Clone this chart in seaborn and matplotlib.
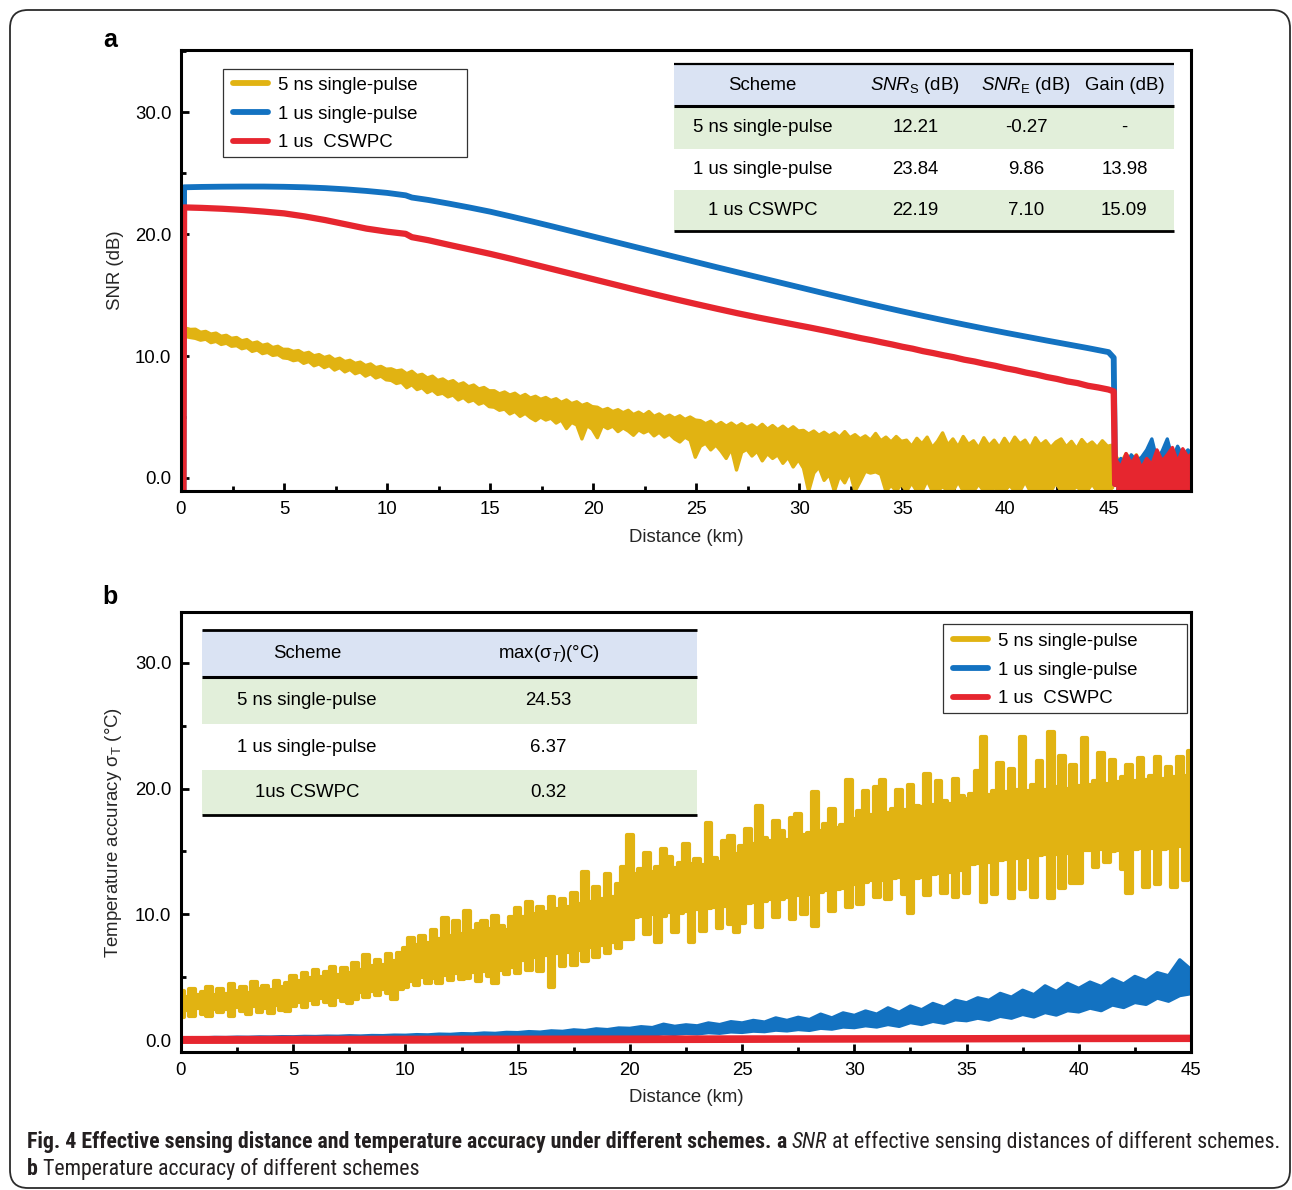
import numpy as np
import matplotlib
matplotlib.use("Agg")
import matplotlib.pyplot as plt
import seaborn as sns
from matplotlib.lines import Line2D
from matplotlib.patches import Rectangle, FancyBboxPatch
from matplotlib.ticker import MultipleLocator, FormatStrFormatter
from matplotlib import font_manager

# ------------------------------------------------------------------ data
series_labels = ["5 ns single-pulse", "1 us single-pulse", "1 us  CSWPC"]
series_colors = ["#E1B312", "#1372C1", "#E6262F"]

# (a) SNR along the fibre, 5 ns single pulse: upper / lower edge of the noisy trace
yellow_a_hi = [
    12.30, 12.18, 12.20, 11.95, 12.02, 11.80, 11.88, 11.62, 11.70, 11.45, 11.52, 11.25, 11.35, 11.05, 11.15, 10.88, 10.98, 10.70, 10.80, 10.55,
    10.55, 10.38, 10.45, 10.20, 10.30, 10.02, 10.12, 9.88, 10.00, 9.70, 9.82, 9.55, 9.65, 9.40, 9.50, 9.22, 9.35, 9.05, 9.15, 8.92,
    8.95, 8.78, 8.85, 8.55, 8.75, 8.40, 8.50, 8.20, 8.35, 8.00, 8.12, 7.85, 7.98, 7.65, 7.80, 7.48, 7.62, 7.30, 7.42, 7.15,
    7.15, 6.90, 7.05, 6.80, 6.95, 6.65, 6.85, 6.55, 6.70, 6.45, 6.60, 6.35, 6.50, 6.20, 6.40, 6.10, 6.25, 5.95, 6.10, 5.85,
    5.80, 5.55, 5.70, 5.45, 5.60, 5.35, 5.55, 5.20, 5.40, 5.15, 5.45, 5.05, 5.25, 4.95, 5.15, 4.90, 5.10, 4.80, 5.00, 4.75,
    4.70, 4.45, 4.65, 4.30, 4.55, 4.25, 4.50, 4.20, 4.45, 4.15, 4.35, 4.05, 4.40, 4.00, 4.30, 3.95, 4.25, 3.90, 4.20, 3.85,
    3.90, 3.60, 3.85, 3.50, 3.75, 3.45, 3.70, 3.35, 3.80, 3.30, 3.55, 3.20, 3.45, 3.10, 3.65, 3.05, 3.35, 2.95, 3.40, 3.00,
    3.10, 2.60, 3.25, 2.80, 3.35, 2.50, 3.00, 3.70, 2.70, 3.20, 2.55, 3.40, 2.75, 3.05, 2.45, 3.30, 2.65, 3.10, 2.50, 3.25,
    2.60, 3.35, 2.80, 3.10, 2.45, 3.30, 2.70, 3.05, 2.50, 2.95, 3.20, 2.55, 3.00, 2.40, 3.15, 2.65, 2.95, 2.50, 3.05, 2.60, 2.70,
]
yellow_a_lo = [
    11.60, 11.52, 11.45, 11.30, 11.38, 11.10, 11.20, 10.95, 11.05, 10.80, 10.85, 10.60, 10.70, 10.38, 10.50, 10.20, 10.30, 10.05, 10.12, 9.85,
    9.80, 9.62, 9.70, 9.40, 9.55, 9.20, 9.35, 9.05, 9.22, 8.85, 9.05, 8.70, 8.90, 8.55, 8.70, 8.35, 8.55, 8.20, 8.35, 8.05,
    8.00, 7.75, 7.85, 7.40, 7.65, 7.25, 7.40, 7.00, 7.20, 6.85, 6.95, 6.65, 6.80, 6.40, 6.60, 6.25, 6.40, 6.05, 6.20, 5.85,
    5.80, 5.55, 5.65, 5.25, 5.45, 5.05, 5.30, 4.95, 4.70, 5.00, 4.75, 4.90, 4.50, 4.75, 4.05, 4.55, 4.35, 3.20, 4.30, 4.00,
    3.30, 4.30, 4.05, 4.25, 3.80, 4.10, 3.85, 3.50, 3.95, 3.70, 3.90, 3.45, 3.75, 3.35, 3.60, 3.20, 2.95, 3.35, 3.10, 1.70,
    2.60, 2.85, 2.30, 2.70, 2.20, 1.60, 2.40, 0.65, 2.10, 2.35, 1.80, 2.20, 1.40, 2.00, 1.60, 1.90, 1.20, 1.70, 0.90, 1.50,
    0.80, -1.10, 0.40, 0.90, -0.20, 0.30, -1.10, 0.20, -0.40, 0.50, -1.10, -0.30, 0.55, 0.40, 0.50, 0.30, -1.10, -0.60, -1.10, -0.50,
    -1.10, -0.40, -1.10, -1.10, -0.20, -1.10, -1.10, -0.70, -1.10, -1.10, -0.30, -1.10, -1.10, -1.10, -0.50, -1.10, -1.10, -0.80, -1.10, -1.10,
    -0.60, -1.10, -1.10, -0.30, -1.10, -1.10, -0.90, -1.10, -1.10, -0.40, -1.10, -1.10, -1.10, -0.70, -1.10, -1.10, -0.50, -1.10, -1.10, -1.10, -0.80,
]
yellow_a_km = np.round(0.2 + 0.25 * np.arange(len(yellow_a_hi)), 2)

# (a) 1 us single pulse
blue_a_km = [0.12, 0.15, 1, 2, 3, 4, 5, 6, 7, 8, 9, 10, 10.9, 11.2, 12, 13, 14, 15, 16, 17, 18, 19, 20,
             21, 22, 23, 24, 25, 26, 27, 28, 29, 30, 31, 32, 33, 34, 35, 36, 37, 38, 39, 40,
             41, 42, 43, 44, 45, 45.25, 45.32]
blue_a_snr = [-1.1, 23.84, 23.87, 23.89, 23.90, 23.90, 23.88, 23.84, 23.77, 23.67, 23.54, 23.38, 23.18, 23.00,
              22.80, 22.50, 22.18, 21.84, 21.45, 21.05, 20.64, 20.22, 19.80, 19.38, 18.96, 18.54, 18.12,
              17.70, 17.28, 16.87, 16.46, 16.05, 15.64, 15.23, 14.83, 14.43, 14.04, 13.66, 13.29, 12.93,
              12.58, 12.24, 11.91, 11.59, 11.27, 10.96, 10.65, 10.32, 9.86, -0.5]

# (a) 1 us CSWPC
red_a_km = [0.12, 0.15, 1, 2, 3, 4, 5, 6, 7, 8, 9, 10, 10.9, 11.2, 12, 13, 14, 15, 16, 17, 18, 19, 20,
            21, 22, 23, 24, 25, 26, 27, 28, 29, 30, 30.5, 31, 31.5, 32, 32.5, 33, 33.5, 34, 34.5,
            35, 35.5, 36, 36.5, 37, 37.5, 38, 38.5, 39, 39.5, 40, 40.5, 41, 41.5, 42, 42.5, 43,
            43.5, 44, 44.5, 45, 45.25, 45.32]
red_a_snr = [-1.1, 22.19, 22.15, 22.08, 21.98, 21.85, 21.70, 21.45, 21.15, 20.80, 20.45, 20.20, 20.02, 19.75,
             19.50, 19.12, 18.75, 18.38, 17.98, 17.56, 17.14, 16.72, 16.30, 15.88, 15.46, 15.05, 14.65,
             14.26, 13.88, 13.51, 13.16, 12.83, 12.50, 12.34, 12.17, 12.00, 11.82, 11.64, 11.46, 11.30,
             11.12, 10.95, 10.76, 10.60, 10.40, 10.24, 10.06, 9.90, 9.70, 9.55, 9.36, 9.20, 9.00, 8.84,
             8.64, 8.48, 8.28, 8.12, 7.92, 7.78, 7.56, 7.42, 7.25, 7.10, -0.5]

# (a) noise floor beyond the fibre end
tail_km = np.round(45.35 + 0.25 * np.arange(16), 2)
yellow_tail = [1.80, 1.20, 2.00, 1.40, 1.90, 1.00, 1.70, 1.30, 1.85, 1.10, 1.60, 1.95, 1.20, 1.75, 1.40, 1.60]
blue_tail = [1.20, 1.60, 0.90, 1.90, 1.40, 1.70, 2.30, 3.20, 1.50, 2.20, 3.20, 1.60, 2.60, 1.80, 2.30, 1.90]
red_tail = [1.50, 0.90, 2.00, 1.20, 1.85, 0.80, 1.60, 1.10, 2.30, 1.40, 1.90, 2.50, 1.30, 2.40, 1.70, 2.10]

# (b) temperature accuracy, 5 ns single pulse
yellow_b_hi = [
    3.90, 3.40, 4.10, 3.60, 3.85, 4.20, 3.55, 4.05, 3.70, 4.45, 3.90, 4.25, 3.75, 4.60, 4.05, 4.30, 3.95, 4.70, 4.20, 4.50,
    5.10, 4.70, 5.35, 4.90, 5.55, 5.05, 5.40, 5.85, 5.20, 5.70, 5.35, 6.10, 5.55, 6.80, 5.90, 6.40, 6.00, 6.85, 6.30, 6.95,
    7.30, 8.10, 7.55, 8.25, 7.70, 8.75, 8.00, 9.70, 8.30, 9.50, 8.45, 10.30, 8.70, 9.20, 9.50, 8.80, 9.90, 9.10, 8.75, 9.80,
    10.50, 9.80, 11.00, 10.00, 10.60, 10.20, 11.40, 10.40, 11.20, 10.60, 11.70, 10.80, 13.40, 11.00, 12.20, 11.20, 13.20, 11.40, 12.40, 13.80,
    16.30, 13.20, 13.60, 14.90, 13.40, 13.80, 15.20, 14.60, 13.70, 14.10, 15.60, 14.00, 14.40, 13.90, 17.30, 14.50, 14.20, 15.80, 16.20, 14.80,
    15.40, 16.80, 15.60, 18.60, 16.10, 15.80, 17.40, 16.60, 15.90, 17.70, 18.00, 16.30, 16.50, 19.70, 16.60, 17.20, 18.40, 16.90, 17.10, 20.70,
    17.60, 18.20, 19.80, 17.90, 20.10, 20.70, 18.10, 18.40, 19.90, 18.30, 20.30, 18.60, 18.50, 21.20, 18.70, 20.60, 19.00, 18.80, 20.80, 19.40,
    19.20, 19.60, 21.40, 24.10, 19.50, 19.80, 22.00, 19.70, 21.60, 19.90, 24.10, 19.80, 20.30, 22.20, 19.90, 24.53, 20.10, 22.60, 20.00, 21.90,
    20.20, 24.00, 20.30, 20.60, 22.80, 20.40, 22.30, 20.50, 20.90, 21.90, 20.60, 22.40, 20.70, 21.00, 22.50, 20.80, 21.70, 20.90, 22.50, 21.00, 23.00,
]
yellow_b_lo = [
    1.80, 2.40, 1.95, 2.55, 2.10, 1.90, 2.50, 2.20, 2.45, 1.95, 2.60, 2.30, 2.05, 2.70, 2.25, 2.55, 2.15, 2.80, 2.40, 2.35,
    2.70, 3.05, 2.60, 3.20, 2.90, 3.35, 3.00, 2.75, 3.40, 3.10, 2.95, 3.25, 3.80, 3.45, 3.90, 3.60, 4.05, 3.75, 3.30, 4.10,
    4.25, 4.70, 4.35, 5.05, 4.50, 4.90, 4.55, 5.20, 4.80, 5.35, 4.85, 4.95, 5.40, 4.70, 5.50, 5.10, 4.50, 5.60, 5.25, 5.80,
    5.30, 6.40, 5.60, 6.60, 5.50, 6.80, 4.20, 6.90, 5.90, 7.00, 6.00, 7.20, 6.30, 7.40, 6.60, 7.60, 6.90, 7.80, 7.30, 8.00,
    8.00, 9.80, 9.90, 8.40, 10.00, 7.80, 9.90, 10.20, 8.60, 10.10, 10.30, 7.80, 10.40, 8.70, 10.50, 10.60, 8.90, 10.70, 9.20, 8.60,
    9.30, 10.90, 11.00, 9.00, 11.10, 11.20, 9.80, 11.20, 11.40, 9.60, 11.50, 10.00, 11.60, 9.10, 11.80, 11.90, 10.30, 12.00, 12.10, 10.60,
    12.40, 10.80, 12.60, 12.70, 11.40, 12.70, 11.20, 12.90, 13.00, 11.60, 10.10, 12.90, 13.00, 11.50, 13.20, 13.30, 11.70, 13.40, 11.40, 13.50,
    11.70, 14.00, 14.10, 11.00, 14.20, 11.60, 14.30, 14.40, 11.30, 14.50, 12.00, 14.60, 11.40, 14.70, 14.80, 11.30, 14.80, 12.10, 14.90, 12.50,
    12.50, 15.10, 15.10, 13.80, 15.20, 14.20, 15.00, 15.10, 13.60, 11.70, 15.20, 15.30, 12.20, 15.30, 12.40, 15.20, 15.30, 12.20, 15.40, 12.70, 13.00,
]
yellow_b_km = np.round(0.25 * np.arange(len(yellow_b_hi)), 2)

# (b) 1 us single pulse
blue_b_hi = [
    0.15, 0.18, 0.16, 0.20, 0.19, 0.22, 0.21, 0.24, 0.23, 0.26,
    0.25, 0.28, 0.27, 0.30, 0.29, 0.33, 0.31, 0.35, 0.34, 0.38,
    0.37, 0.42, 0.40, 0.46, 0.44, 0.50, 0.48, 0.55, 0.52, 0.60,
    0.58, 0.66, 0.62, 0.72, 0.68, 0.80, 0.74, 0.88, 0.82, 0.95,
    0.92, 1.05, 0.98, 1.25, 1.08, 1.20, 1.12, 1.35, 1.22, 1.45,
    1.35, 1.55, 1.42, 1.75, 1.55, 1.80, 1.62, 2.05, 1.75, 2.15,
    1.95, 2.30, 2.05, 2.55, 2.20, 2.70, 2.40, 2.90, 2.60, 3.15,
    2.95, 3.35, 3.15, 3.70, 3.40, 3.95, 3.60, 4.30, 3.85, 4.50,
    4.10, 4.60, 4.25, 4.85, 4.45, 5.05, 4.70, 5.35, 5.10, 6.37,
    5.60,
]
blue_b_lo = [
    -0.05, -0.04, -0.05, -0.03, -0.04, -0.02, -0.03, -0.01, -0.02, 0.00,
    0.00, 0.02, 0.01, 0.03, 0.02, 0.04, 0.03, 0.06, 0.05, 0.08,
    0.07, 0.10, 0.09, 0.12, 0.11, 0.15, 0.13, 0.18, 0.16, 0.21,
    0.19, 0.24, 0.22, 0.28, 0.25, 0.31, 0.28, 0.35, 0.32, 0.40,
    0.38, 0.45, 0.42, 0.50, 0.46, 0.55, 0.50, 0.60, 0.55, 0.66,
    0.62, 0.72, 0.68, 0.80, 0.74, 0.85, 0.78, 0.95, 0.88, 1.05,
    1.00, 1.15, 1.05, 1.25, 1.10, 1.40, 1.25, 1.50, 1.35, 1.62,
    1.55, 1.75, 1.60, 1.90, 1.75, 2.05, 1.85, 2.20, 2.00, 2.35,
    2.25, 2.55, 2.35, 2.80, 2.60, 3.00, 2.85, 3.35, 3.10, 3.55,
    3.70,
]
blue_b_km = np.round(0.5 * np.arange(len(blue_b_hi)), 2)

# (b) 1 us CSWPC
red_b_km = [0, 5, 10, 15, 20, 25, 30, 35, 40, 45]
red_b_hi = [0.22, 0.23, 0.24, 0.25, 0.26, 0.27, 0.28, 0.29, 0.31, 0.32]
red_b_lo = [-0.20, -0.19, -0.18, -0.16, -0.14, -0.12, -0.10, -0.08, -0.06, -0.05]

# tables
table_a_schemes = ["5 ns single-pulse", "1 us single-pulse", "1 us CSWPC"]
table_a_snr_s = [12.21, 23.84, 22.19]
table_a_snr_e = [-0.27, 9.86, 7.10]
table_a_gain = [None, 13.98, 15.09]
table_b_schemes = ["5 ns single-pulse", "1 us single-pulse", "1us CSWPC"]
table_b_max_sigma = [24.53, 6.37, 0.32]

# ------------------------------------------------------------------ style
sns.set_theme(style="ticks")
plt.rcParams["font.family"] = ["Liberation Sans", "DejaVu Sans"]
plt.rcParams["mathtext.fontset"] = "custom"
plt.rcParams["mathtext.rm"] = "Liberation Sans"
plt.rcParams["mathtext.it"] = "Liberation Sans:italic"
plt.rcParams["mathtext.bf"] = "Liberation Sans:bold"
plt.rcParams["text.color"] = "black"

FS = 13.4
HEAD_BLUE = "#DAE3F3"
ROW_GREEN = "#E2EFDA"

W, H = 1292, 1190
fig = plt.figure(figsize=(W / 100, H / 100), dpi=100)
fig.patch.set_facecolor("white")
ax_a = fig.add_axes([181 / W, 1 - 491 / H, 1010 / W, 441 / H])
ax_b = fig.add_axes([181 / W, 1 - 1052 / H, 1010 / W, 440 / H])


def band(ax, x, lo, hi, color, z, lw=2.6, steps=False):
    """Dense noisy trace drawn as a filled envelope with rounded edges."""
    ax.fill_between(x, lo, hi, color=color, linewidth=0, zorder=z,
                    step="mid" if steps else None)
    edges = [hi] if np.isscalar(lo) else [hi, lo]
    for edge in edges:
        sns.lineplot(x=x, y=edge, ax=ax, color=color, linewidth=lw, estimator=None,
                     sort=False, zorder=z, solid_capstyle="round", solid_joinstyle="round",
                     drawstyle="steps-mid" if steps else "default")


def style_axes(ax, xmax, ymin, ymax, xlabel, ylabel):
    ax.set_xlim(0, xmax)
    ax.set_ylim(ymin, ymax)
    ax.set_xticks(np.arange(0, 46, 5))
    ax.xaxis.set_minor_locator(MultipleLocator(2.5))
    ax.set_yticks([0, 10, 20, 30])
    ax.yaxis.set_minor_locator(MultipleLocator(5))
    ax.yaxis.set_major_formatter(FormatStrFormatter("%.1f"))
    ax.tick_params(which="both", direction="in", width=2.0, color="black",
                   labelsize=FS, labelcolor="black", top=False, right=False)
    ax.tick_params(which="major", length=6, pad=7)
    ax.tick_params(which="minor", length=3.5)
    for sp in ax.spines.values():
        sp.set_linewidth(2.2)
        sp.set_color("black")
        sp.set_zorder(10)
    ax.set_xlabel(xlabel, fontsize=FS)
    ax.set_ylabel(ylabel, fontsize=FS)
    ax.grid(False)


def draw_table(ax, x0, x1, y_edges, fills, col_x, rows, rules):
    for i, fc in enumerate(fills):
        if fc:
            ax.add_patch(Rectangle((x0, y_edges[i + 1]), x1 - x0, y_edges[i] - y_edges[i + 1],
                                   transform=ax.transAxes, facecolor=fc, edgecolor="none", zorder=5))
    for yy, lw in rules:
        ax.plot([x0, x1], [yy, yy], transform=ax.transAxes, color="black", lw=lw,
                solid_capstyle="butt", zorder=6, clip_on=False)
    for i, row in enumerate(rows):
        yc = (y_edges[i] + y_edges[i + 1]) / 2
        for xc, txt in zip(col_x, row):
            ax.text(xc, yc, txt, transform=ax.transAxes, ha="center", va="center",
                    fontsize=FS, zorder=7)


def draw_legend(ax, frame, anchor):
    x0, x1, yb, yt = frame
    ax.add_patch(Rectangle((x0, yb), x1 - x0, yt - yb, transform=ax.transAxes,
                           facecolor="white", edgecolor="#333333", lw=0.9, zorder=8))
    handles = [Line2D([], [], color=c, lw=4.2, solid_capstyle="round") for c in series_colors]
    leg = ax.legend(handles, series_labels, loc="center left", bbox_to_anchor=anchor,
                    frameon=False, fontsize=FS, handlelength=1.9, handletextpad=0.5,
                    labelspacing=0.63, borderpad=0.0, borderaxespad=0.0)
    leg.set_zorder(9)


# ------------------------------------------------------------------ panel a
band(ax_a, yellow_a_km, yellow_a_lo, yellow_a_hi, series_colors[0], 2, lw=2.4)
band(ax_a, tail_km, -1.1, yellow_tail, series_colors[0], 2, lw=2.4)
sns.lineplot(x=blue_a_km, y=blue_a_snr, ax=ax_a, color=series_colors[1], linewidth=4.2,
             estimator=None, sort=False, zorder=3, solid_joinstyle="round")
band(ax_a, tail_km, -1.1, blue_tail, series_colors[1], 3, lw=2.4)
sns.lineplot(x=red_a_km, y=red_a_snr, ax=ax_a, color=series_colors[2], linewidth=4.5,
             estimator=None, sort=False, zorder=4, solid_joinstyle="round")
band(ax_a, tail_km, -1.1, red_tail, series_colors[2], 4, lw=2.4)

style_axes(ax_a, 49, -1.07, 35.1, "Distance (km)", "SNR (dB)")
ax_a.xaxis.set_label_coords(0.5, -0.086)
ax_a.yaxis.set_label_coords(-0.056, 0.5)

fmt = lambda v: "-" if v is None else f"{v:.2f}"
rows_a = [["Scheme", r"$\mathit{SNR}_{\mathrm{S}}$ (dB)", r"$\mathit{SNR}_{\mathrm{E}}$ (dB)", "Gain (dB)"]]
rows_a += [[s, fmt(a), fmt(b), fmt(g)] for s, a, b, g in
           zip(table_a_schemes, table_a_snr_s, table_a_snr_e, table_a_gain)]
draw_table(ax_a, 0.488, 0.983, [0.968, 0.873, 0.776, 0.683, 0.590],
           [HEAD_BLUE, ROW_GREEN, None, ROW_GREEN],
           [0.576, 0.727, 0.837, 0.934], rows_a,
           [(0.968, 1.6), (0.873, 2.2), (0.590, 2.0)])
draw_legend(ax_a, (0.0416, 0.2832, 0.7574, 0.9569), (0.0515, 0.8549))

# ------------------------------------------------------------------ panel b
band(ax_b, yellow_b_km, yellow_b_lo, yellow_b_hi, series_colors[0], 2, lw=3.0, steps=True)
band(ax_b, blue_b_km, blue_b_lo, blue_b_hi, series_colors[1], 3, lw=2.6)
band(ax_b, red_b_km, red_b_lo, red_b_hi, series_colors[2], 4, lw=2.0)

style_axes(ax_b, 45, -0.95, 34.05, "Distance (km)",
           "Temperature accuracy σ$_{\\mathrm{T}}$ (°C)")
ax_b.xaxis.set_label_coords(0.5, -0.084)
ax_b.yaxis.set_label_coords(-0.056, 0.5)

rows_b = [["Scheme", "max(σ$_{\\mathit{T}}$)(°C)"]]
rows_b += [[s, f"{v:.2f}"] for s, v in zip(table_b_schemes, table_b_max_sigma)]
draw_table(ax_b, 0.0208, 0.511, [0.959, 0.852, 0.745, 0.641, 0.539],
           [HEAD_BLUE, ROW_GREEN, None, ROW_GREEN],
           [0.1248, 0.364], rows_b,
           [(0.959, 2.0), (0.852, 2.2), (0.539, 2.0)])
draw_legend(ax_b, (0.7545, 0.996, 0.7705, 0.9727), (0.7644, 0.8682))

# ------------------------------------------------------------------ panel letters
fig.text(110 / W, 1 - 40 / H, "a", fontsize=18, fontweight="bold", ha="center", va="center")
fig.text(110 / W, 1 - 597 / H, "b", fontsize=18, fontweight="bold", ha="center", va="center")

# ------------------------------------------------------------------ caption
available = {f.name for f in font_manager.fontManager.ttflist}
cap_family = next((f for f in ["Liberation Sans Narrow", "DejaVu Sans Condensed",
                               "Roboto Condensed", "Open Sans Condensed"] if f in available),
                  "Liberation Sans")
renderer = fig.canvas.get_renderer()
CAP_COLOR = "#231F20"


def text_w(s, size, **kw):
    t = fig.text(0, 0, s, fontsize=size, family=cap_family, **kw)
    w = t.get_window_extent(renderer).width
    t.remove()
    return w


line1 = [("Fig. 4 Effective sensing distance and temperature accuracy under different schemes.", "bold", "normal"),
         ("a", "bold", "normal"), ("SNR", "normal", "italic"),
         ("at effective sensing distances of different schemes.", "normal", "normal")]
line2 = [("b", "bold", "normal"), ("Temperature accuracy of different schemes", "normal", "normal")]


def line_width(segs, size):
    sp = text_w("a a", size) - text_w("aa", size)
    return sum(text_w(s, size, fontweight=w, fontstyle=st) for s, w, st in segs) + sp * (len(segs) - 1)


cap_size = 12 * 1253 / line_width(line1, 12)
cap_size = min(max(cap_size, 9), 18)
space_w = text_w("a a", cap_size) - text_w("aa", cap_size)


def put_line(segs, x_px, base_px):
    x = x_px
    for s, w, st in segs:
        fig.text(x / W, 1 - base_px / H, s, fontsize=cap_size, family=cap_family,
                 fontweight=w, fontstyle=st, ha="left", va="baseline", color=CAP_COLOR)
        x += text_w(s, cap_size, fontweight=w, fontstyle=st) + space_w


put_line(line1, 27, 1148)
put_line(line2, 27, 1175)

# rounded outer frame
fig.add_artist(FancyBboxPatch((0.10, 0.02), 12.80, 11.78, boxstyle="round,pad=0,rounding_size=0.18",
                              transform=fig.dpi_scale_trans, facecolor="none",
                              edgecolor="#2b2b2b", lw=1.3, clip_on=False))

fig.savefig("out.png", dpi=100)
